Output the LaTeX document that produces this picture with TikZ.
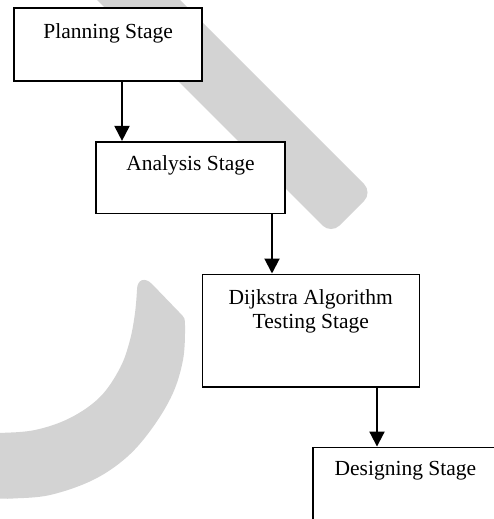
\documentclass[tikz,border=0pt]{standalone}
\usepackage{fontspec}
\setmainfont{Liberation Serif}
\usetikzlibrary{arrows.meta}
\definecolor{wmgray}{RGB}{211,211,211}
\tikzset{
  wm/.style={fill=wmgray, draw=none},
  stagebox/.style={draw=black, fill=white, line width=1.6pt, inner sep=0pt, rectangle},
  lbl/.style={inner sep=0pt, font=\fontsize{21.5}{24.3}\selectfont, align=center},
  arr/.style={line width=2pt, -{Triangle[length=15pt,width=15pt]}}
}
\begin{document}
\begin{tikzpicture}[x=1pt, y=-1pt]
\useasboundingbox (0,0) rectangle (494,519);
\clip (0,0) rectangle (494,519);
% watermark band
\fill[wm, rounded corners=12pt] (150,-30) -- (372.5,192.5) -- (331,234) -- (67,-30) -- cycle;
% watermark crescent
\fill[wm] (-10,540) -- (-10,498)
  -- plot[smooth, tension=0.6] coordinates {(0,498.5) (13,498.5) (50,495) (93,480) (127,457) (153,427) (173,393) (183,360) (185,333)}
  -- (185,326) .. controls (185,318) .. (179,312) -- (152,284)
  .. controls (145,277) and (137,279) .. (137,290)
  -- plot[smooth, tension=0.6] coordinates {(137,290) (135,313) (130,340) (120,368) (100,397) (70,418) (35,430) (0,433) (-10,433)}
  -- (-20,433) -- (-20,540) -- cycle;
% boxes
\node[stagebox, minimum width=188pt, minimum height=72.4pt] (p) at (108.2,44.5) {};
\node[stagebox, minimum width=189pt, minimum height=71.6pt] (a) at (190.5,177.5) {};
\node[stagebox, minimum width=217pt, minimum height=112.4pt] (d) at (310.8,330.5) {};
\node[stagebox, minimum width=185.4pt, minimum height=77.7pt] (g) at (405.4,486.2) {};
% labels
\node[lbl, anchor=base] (pt) at ([yshift=-31pt]p.north) {Planning Stage};
\node[lbl, anchor=base] (at) at ([yshift=-30pt]a.north) {Analysis Stage};
\node[lbl, anchor=north] (dt) at ([yshift=-16pt]d.north) {Dijkstra Algorithm\\Testing Stage};
\node[lbl, anchor=base] (gt) at ([yshift=-28.7pt]g.north) {Designing Stage};
% connectors
\draw[arr] ([xshift=13.8pt]p.south) -- ([xshift=-68.5pt]a.north);
\draw[arr] ([xshift=81.5pt]a.south) -- ([xshift=-38.8pt]d.north);
\draw[arr] ([xshift=66.2pt]d.south) -- ([xshift=-28.4pt]g.north);
\end{tikzpicture}
\end{document}
